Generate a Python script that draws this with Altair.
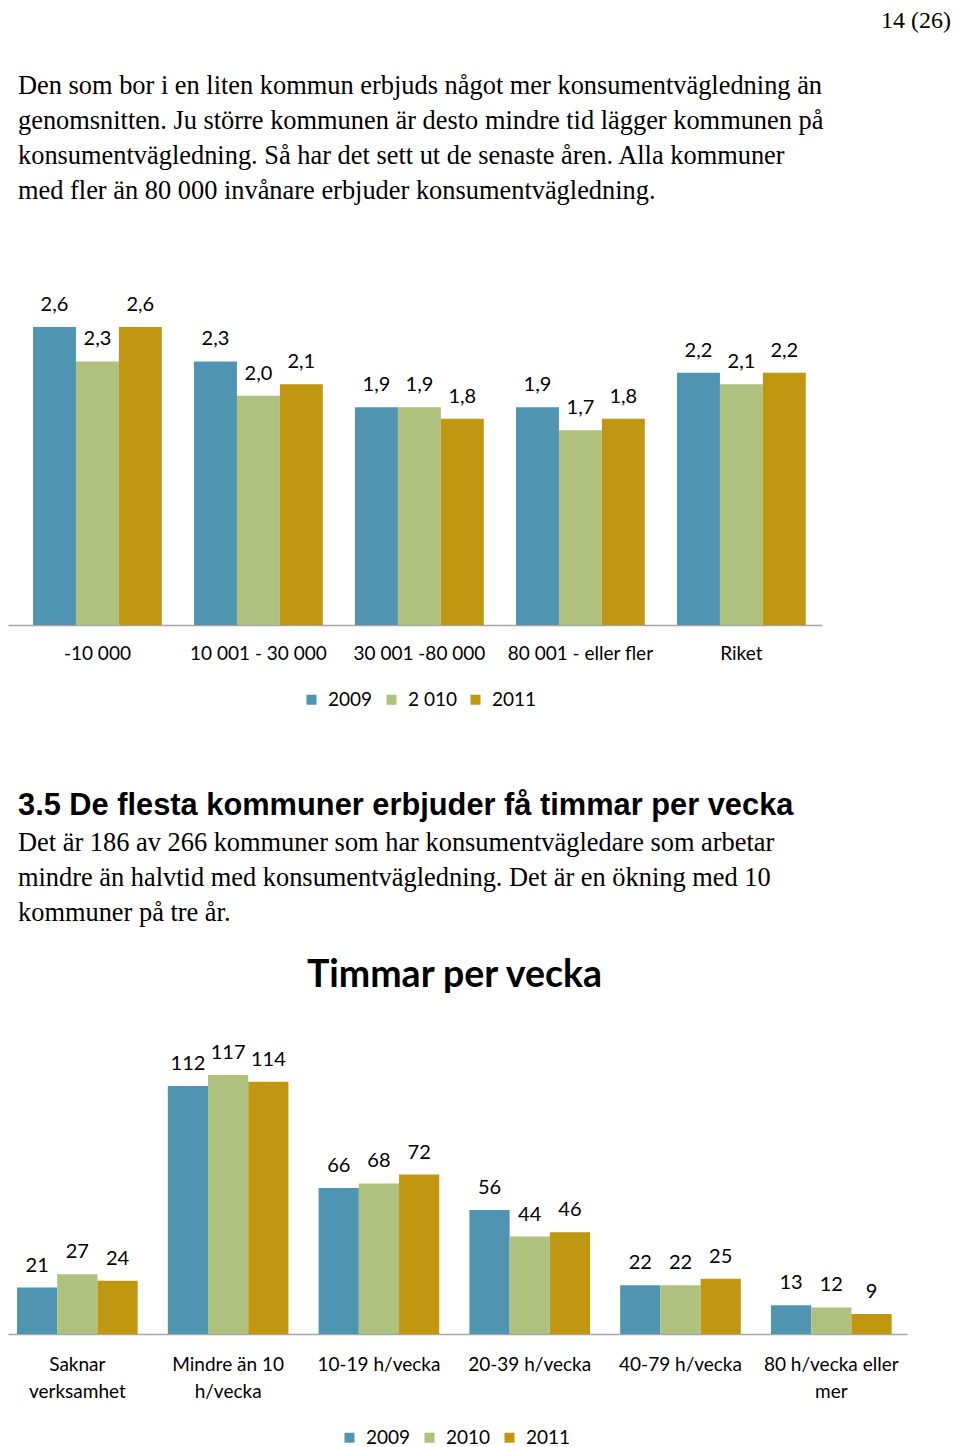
import altair as alt
import pandas as pd

# ---------------- text content ----------------
page_number = "14 (26)"
paragraph1 = [
    "Den som bor i en liten kommun erbjuds något mer konsumentvägledning än",
    "genomsnitten. Ju större kommunen är desto mindre tid lägger kommunen på",
    "konsumentvägledning.  Så har det sett ut de senaste åren. Alla kommuner",
    "med fler än 80 000 invånare erbjuder konsumentvägledning.",
]
heading = "3.5 De flesta kommuner erbjuder få timmar per vecka"
paragraph2 = [
    "Det är 186 av 266 kommuner som har konsumentvägledare som arbetar",
    "mindre än halvtid med konsumentvägledning. Det är en ökning med 10",
    "kommuner på tre år.",
]
chart2_title = "Timmar per vecka"

# ---------------- chart 1 data ----------------
groups1 = ["-10 000", "10 001 - 30 000", "30 001 -80 000", "80 001 - eller fler", "Riket"]
years1 = ["2009", "2 010", "2011"]
c1_2009 = [2.6, 2.3, 1.9, 1.9, 2.2]
c1_2010 = [2.3, 2.0, 1.9, 1.7, 2.1]
c1_2011 = [2.6, 2.1, 1.8, 1.8, 2.2]

# ---------------- chart 2 data ----------------
groups2 = ["Saknar\nverksamhet", "Mindre än 10\nh/vecka", "10-19 h/vecka",
           "20-39 h/vecka", "40-79 h/vecka", "80 h/vecka eller\nmer"]
years2 = ["2009", "2010", "2011"]
c2_2009 = [21, 112, 66, 56, 22, 13]
c2_2010 = [27, 117, 68, 44, 22, 12]
c2_2011 = [24, 114, 72, 46, 25, 9]

colors = ["#4F94B1", "#AEC17F", "#C19712"]

SANS = "Lato"
SERIF = "Liberation Serif"


def long_table(groups, years, series, fmt):
    rows = []
    for gi, g in enumerate(groups):
        for yi, y in enumerate(years):
            v = series[yi][gi]
            rows.append({"group": g, "year": y, "value": v, "label": fmt(v)})
    return pd.DataFrame(rows)


df1 = long_table(groups1, years1, [c1_2009, c1_2010, c1_2011],
                 lambda v: f"{v:.1f}".replace(".", ","))
df2 = long_table(groups2, years2, [c2_2009, c2_2010, c2_2011],
                 lambda v: f"{v:d}")


def bar_chart(df, groups, years, width, height, pad_outer, align, legend_x, legend_y, label_pad, title):
    ymax = float(df["value"].max())
    base = alt.Chart(df).encode(
        x=alt.X("group:N", sort=groups,
                scale=alt.Scale(paddingInner=0.2, paddingOuter=pad_outer, align=align),
                axis=alt.Axis(title=None, labelAngle=0, ticks=False, tickSize=0,
                              labelPadding=label_pad, domainColor="#A6A6A6", domainWidth=1.5,
                              labelFont=SANS, labelFontSize=19, labelColor="black",
                              labelOverlap=False, labelLimit=400, grid=False,
                              labelLineHeight=27,
                              labelExpr="split(datum.label, '\\n')")),
        xOffset=alt.XOffset("year:N", sort=years,
                            scale=alt.Scale(domain=years, paddingInner=0, paddingOuter=0)),
        y=alt.Y("value:Q", scale=alt.Scale(domain=[0, ymax], nice=False, zero=True), axis=None),
    )
    bars = base.mark_bar().encode(
        color=alt.Color("year:N", sort=years,
                        scale=alt.Scale(domain=years, range=colors),
                        legend=alt.Legend(title=None, orient="none", legendX=legend_x,
                                          legendY=legend_y, direction="horizontal",
                                          symbolType="square", symbolSize=100,
                                          symbolStrokeWidth=0, labelFont=SANS,
                                          labelFontSize=19, labelColor="black",
                                          labelOffset=7, columnPadding=9))
    )
    labels = base.mark_text(baseline="middle", dy=-22, font=SANS, fontSize=20,
                            color="black").encode(text="label:N")
    return alt.layer(bars, labels).properties(width=width, height=height, title=title)


c1 = bar_chart(df1, groups1, years1, 814, 298, 0.128, 0.607, 294, 363, 19,
               alt.TitleParams(paragraph1, anchor="start", dx=10, font=SERIF, fontSize=26.4,
                               fontWeight="normal", lineHeight=35, offset=91, color="black"))

mid = alt.Chart(pd.DataFrame({"t": [""]})).mark_text().encode(text="t:N").properties(
    width=940, height=1,
    title=alt.TitleParams(heading, subtitle=paragraph2, anchor="start", dx=10,
                          font="Liberation Sans", fontSize=30.8, fontWeight="bold",
                          color="black", subtitleFont=SERIF, subtitleFontSize=26.4,
                          subtitleColor="black", subtitleLineHeight=35,
                          subtitlePadding=8, offset=5))

c2 = bar_chart(df2, groups2, years2, 899, 259, 0.081, 0.37, 332, 353, 21,
               alt.TitleParams(chart2_title, anchor="middle", dx=-3, font=SANS, fontSize=37.5,
                               fontWeight="bold", color="black", offset=49))

inner = alt.vconcat(c1, mid, spacing=127)
chart = alt.vconcat(inner, c2, spacing=12).resolve_scale(
    color="independent", xOffset="independent"
).resolve_legend(color="independent").properties(
    padding=0,
    title=alt.TitleParams(page_number, anchor="end", dx=3, font=SERIF, fontSize=24,
                          fontWeight="normal", color="black", offset=40),
).configure_view(stroke=None)

chart.save("out.html", embed_options={"renderer": "svg", "actions": False})
